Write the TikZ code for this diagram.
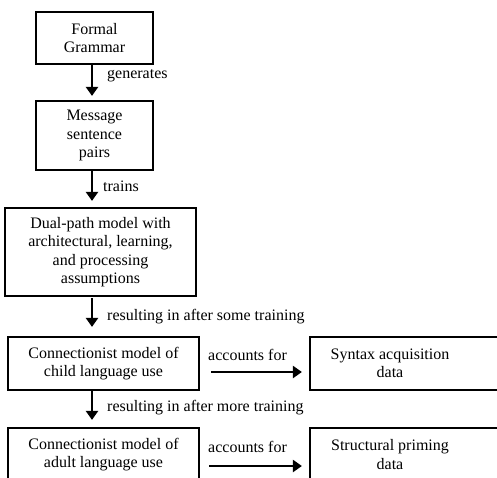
\documentclass[tikz,border=0pt]{standalone}
\usepackage{fontspec}
\setmainfont{Liberation Serif}
\usetikzlibrary{arrows.meta}
\tikzset{
  box/.style={draw, line width=2.2pt, inner sep=0pt, align=center},
  widebox/.style={box, minimum width=191pt},
  databox/.style={draw, line width=2.2pt, inner sep=0pt, minimum width=190pt, minimum height=53pt},
  txt/.style={inner sep=0pt, align=center},
  arr/.style={line width=2.4pt, -{Triangle[length=9pt,width=12pt]}},
  lbl/.style={anchor=west, inner sep=0pt},
}
\begin{document}
\begin{tikzpicture}[x=1pt, y=-1pt, font=\fontsize{16}{18.5}\selectfont]
\clip (0,0) rectangle (497,477);
\fill[white] (0,0) rectangle (497,477);

% main column
\node[box, minimum width=117pt, minimum height=52pt] (fg) at (94.5,38) {Formal\\Grammar};
\node[box, minimum width=117pt, minimum height=69pt] (msp) at (94.5,135.5) {Message\\sentence\\pairs};
\node[widebox, minimum height=88pt] (dp) at (100.5,252) {Dual-path model with\\architectural, learning,\\and processing\\assumptions};
\node[widebox, minimum height=53pt] (child) at (103.5,363.5) {Connectionist model of\\child language use};
\node[widebox, minimum height=53pt] (adult) at (103.5,454.5) {Connectionist model of\\adult language use};

% data boxes on the right
\node[databox] (synbox) at (405,363.5) {};
\node[txt] (syn) at (390,363.5) {Syntax acquisition\\data};
\node[databox] (prbox) at (405,454.5) {};
\node[txt] (pr) at (390,454.5) {Structural priming\\data};

% vertical connectors
\coordinate (spine) at (92,0);
\draw[arr, shorten >=4pt] (fg.south -| spine) -- (msp.north -| spine);
\draw[arr, shorten >=6pt] (msp.south -| spine) -- (dp.north -| spine);
\draw[arr, shorten <=1pt, shorten >=9pt] (dp.south -| spine) -- (child.north -| spine);
\draw[arr, shorten >=7pt] (child.south -| spine) -- (adult.north -| spine);

\node[lbl] (l1) at (107,76) {generates};
\node[lbl] (l2) at (103,186) {trains};
\node[lbl] (l3) at (107,317) {resulting in after some training};
\node[lbl] (l4) at (107,408) {resulting in after more training};

% horizontal connectors
\draw[arr, shorten <=11pt, shorten >=7pt] ([yshift=-8.5pt]child.east) -- ([yshift=-8.5pt]synbox.west);
\draw[arr, shorten <=9pt, shorten >=7pt] ([yshift=-11.5pt]adult.east) -- ([yshift=-11.5pt]prbox.west);
\node[lbl] (a1) at (208,355) {accounts for};
\node[lbl] (a2) at (208,447) {accounts for};
\end{tikzpicture}
\end{document}
